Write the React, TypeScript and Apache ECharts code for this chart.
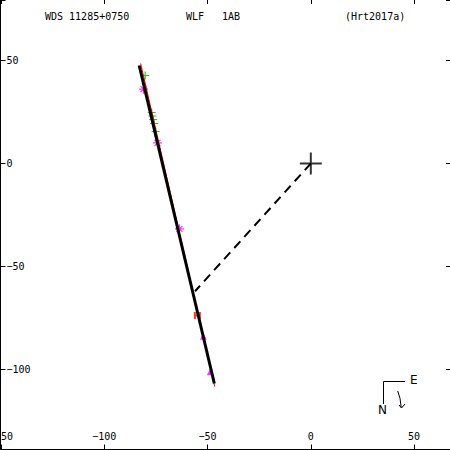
import React, { useEffect, useRef } from "react";
import * as echarts from "echarts";

const titleLeft = "WDS 11285+0750";
const titleMidA = "WLF";
const titleMidB = "1AB";
const titleRight = "(Hrt2017a)";

const xRange = [-150.24, 67.39];
const yRange = [-138.83, 79.37];

const orbitBlack = [[-83.09, 47.57], [-46.71, -106.8]];
const orbitRed = [[-82.37, 48.54], [-46.52, -108.25]];
const periastronLine = [[0, 0], [-56.04, -61.99]];
const primary = [[0, 0]];
const greenPlus = [[-80.19, 42.72], [-77.05, 24.76], [-76.67, 23.06], [-76.33, 21.36], [-75.85, 19.42], [-75.12, 15.53]];
const magentaStar = [[-81.01, 36.07], [-74.25, 10.05], [-63.62, -31.7]];
const magentaTri = [[-52.03, -83.83], [-48.65, -101.12]];
const redH = [[-54.93, -73.79]];

const FONT = '"DejaVu Sans Mono", monospace';
const fmt = (v: number) =>
  Math.abs(v % 50) < 1e-6 ? String(v).replace("-", "\u2212") : "";

export default function App() {
  const ref = useRef<HTMLDivElement>(null);
  useEffect(() => {
    if (!ref.current) return;
    const chart = echarts.init(ref.current, undefined, { renderer: "svg" });
    const baseAxis = {
      type: "value" as const,
      minInterval: 50,
      maxInterval: 50,
      splitLine: { show: false },
    };
    chart.setOption({
      animation: false,
      backgroundColor: "#fff",
      grid: { left: 0.5, right: 0, top: 0, bottom: 0.5, containLabel: false, outerBoundsMode: "none" },
      xAxis: [
        {
          ...baseAxis,
          position: "bottom",
          min: xRange[0],
          max: xRange[1],
          axisLine: { show: true, onZero: false, lineStyle: { color: "#000", width: 1 } },
          axisTick: { show: true, inside: true, length: 5, lineStyle: { color: "#000" } },
          axisLabel: {
            inside: true, margin: 8, color: "#000", fontFamily: FONT, fontSize: 10,
            showMinLabel: true, showMaxLabel: true, formatter: fmt,
          },
        },
        {
          ...baseAxis,
          position: "top",
          min: xRange[0],
          max: xRange[1],
          axisLine: { show: false, onZero: false },
          axisTick: { show: true, inside: true, length: 4, lineStyle: { color: "#000" } },
          axisLabel: { show: false },
        },
      ],
      yAxis: [
        {
          ...baseAxis,
          position: "left",
          min: yRange[0],
          max: yRange[1],
          axisLine: { show: true, onZero: false, lineStyle: { color: "#000", width: 1 } },
          axisTick: { show: true, inside: true, length: 5, lineStyle: { color: "#000" } },
          axisLabel: {
            inside: true, margin: 6, color: "#000", fontFamily: FONT, fontSize: 10,
            showMinLabel: true, showMaxLabel: true, formatter: fmt,
          },
        },
        {
          ...baseAxis,
          position: "right",
          min: yRange[0],
          max: yRange[1],
          axisLine: { show: false, onZero: false },
          axisTick: { show: true, inside: true, length: 4, lineStyle: { color: "#000" } },
          axisLabel: { show: false },
        },
      ],
      series: [
        {
          type: "line", data: periastronLine, showSymbol: false, symbol: "none",
          lineStyle: { color: "#000", width: 2, type: [9, 6] },
        },
        {
          type: "line", data: orbitRed, showSymbol: false, symbol: "none",
          lineStyle: { color: "#ff0000", width: 1 },
        },
        {
          type: "line", data: orbitBlack, showSymbol: false, symbol: "none",
          lineStyle: { color: "#000", width: 3 },
        },
        {
          type: "scatter", data: greenPlus, symbol: "path://M0,-3L0,3M-3,0L3,0", symbolSize: 8,
          itemStyle: { color: "transparent", borderColor: "#00b000", borderWidth: 1.2 },
        },
        {
          type: "scatter", data: magentaStar,
          symbol: "path://M-3,0L3,0M0,-3L0,3M-2,-2L2,2M-2,2L2,-2", symbolSize: 9,
          itemStyle: { color: "transparent", borderColor: "#ff00ff", borderWidth: 1.2 },
        },
        {
          type: "scatter", data: magentaTri, symbol: "triangle", symbolSize: 7,
          itemStyle: { color: "#ff00ff" },
        },
        {
          type: "scatter", data: redH, symbol: "path://M0,0h2v3h3v-3h2v8h-2v-3h-3v3h-2z", symbolSize: [7, 7],
          itemStyle: { color: "#ff0000" },
        },
        {
          type: "scatter", data: primary, symbol: "path://M-1,0L1,0M0,-1L0,1", symbolSize: 22,
          itemStyle: { color: "transparent", borderColor: "#000", borderWidth: 2 },
        },
      ],
      graphic: [
        { type: "text", style: { text: titleLeft, x: 45, y: 16, fill: "#000", font: `10px ${FONT}`, verticalAlign: "middle" } },
        { type: "text", style: { text: titleMidA, x: 186, y: 16, fill: "#000", font: `10px ${FONT}`, verticalAlign: "middle" } },
        { type: "text", style: { text: titleMidB, x: 222, y: 16, fill: "#000", font: `10px ${FONT}`, verticalAlign: "middle" } },
        { type: "text", style: { text: titleRight, x: 345, y: 16, fill: "#000", font: `10px ${FONT}`, verticalAlign: "middle" } },
        {
          type: "polyline",
          shape: { points: [[383.5, 404], [383.5, 381.5], [405, 381.5]] },
          style: { stroke: "#000", lineWidth: 1, fill: "none" },
        },
        { type: "text", style: { text: "E", x: 410, y: 380, fill: "#000", font: '12px "DejaVu Sans"', verticalAlign: "middle" } },
        { type: "text", style: { text: "N", x: 378, y: 410, fill: "#000", font: '12px "DejaVu Sans"', verticalAlign: "middle" } },
        {
          type: "polyline",
          shape: { points: [[397.7, 391], [400, 398.3], [401.2, 407.5]] },
          style: { stroke: "#000", lineWidth: 1, fill: "none" },
        },
        {
          type: "polyline",
          shape: { points: [[399, 405], [401.5, 408], [405, 404]] },
          style: { stroke: "#000", lineWidth: 1, fill: "none" },
        },
      ],
    });
    return () => chart.dispose();
  }, []);
  return (
    <div
      ref={ref}
      style={{ position: "absolute", left: 0, top: 0, width: 450, height: 450 }}
    />
  );
}
